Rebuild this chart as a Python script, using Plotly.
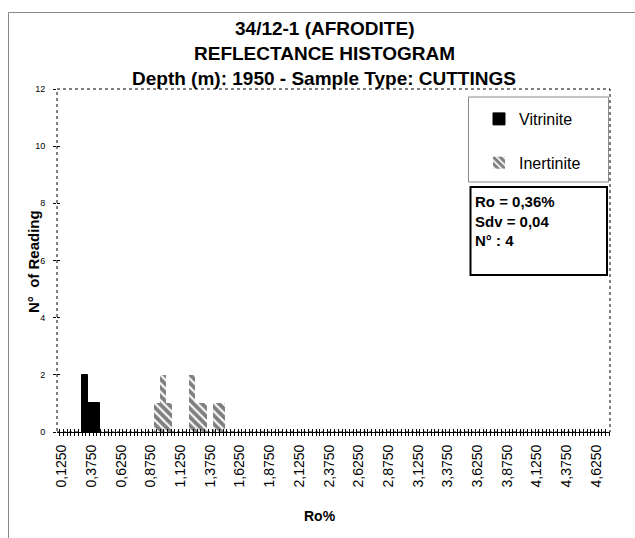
import plotly.graph_objects as go

# ---- data ----
vit_x = [0.325, 0.375, 0.425]
vit_y = [2, 1, 1]
inert_x = [0.925, 0.975, 1.025, 1.225, 1.275, 1.325, 1.425, 1.475]
inert_y = [1, 2, 1, 2, 1, 1, 1, 1]
bin_width = 0.05
label_vals = [0.125 + 0.25 * k for k in range(19)]
label_text = [f"{v:.4f}".replace(".", ",") for v in label_vals]
y_ticks = [0, 2, 4, 6, 8, 10, 12]
stats_lines = ["Ro = 0,36%", "Sdv = 0,04", "N° : 4"]
titles = ["34/12-1 (AFRODITE)", "REFLECTANCE HISTOGRAM",
          "Depth (m): 1950 - Sample Type: CUTTINGS"]

W, H = 635, 538
L, R, T, B = 57, 610, 89, 432
XR = [0.0854, 4.7403]
FONT = "Liberation Sans, Arial, sans-serif"


def px(p):
    return (p - L) / (R - L)


def py(p):
    return (B - p) / (B - T)


fig = go.Figure()
fig.add_trace(go.Bar(
    x=vit_x, y=vit_y, width=bin_width, name="Vitrinite", legendgroup="v",
    marker=dict(color="black", line=dict(color="black", width=1)),
))
fig.add_trace(go.Bar(
    x=inert_x, y=inert_y, width=bin_width, name="Inertinite", legendgroup="i",
    marker=dict(color="white", line=dict(width=0),
                pattern=dict(shape="\\", fgcolor="black", bgcolor="white",
                             size=6, solidity=0.65)),
))
# empty helper traces so that the tick-only overlay axes are drawn
for xa, ya in [("x2", "y"), ("x3", "y"), ("x", "y2")]:
    fig.add_trace(go.Scatter(x=[], y=[], xaxis=xa, yaxis=ya,
                             showlegend=False, hoverinfo="skip"))

shapes = [
    # chart area border (gray)
    dict(type="rect", xref="paper", yref="paper", x0=px(8.5), x1=px(700),
         y0=py(700), y1=py(12.5), line=dict(color="#8a8a8a", width=1),
         layer="below"),
    # dotted plot area border
    dict(type="rect", xref="paper", yref="paper", x0=0, x1=1, y0=0, y1=1,
         line=dict(color="black", width=1, dash="dot"), layer="below"),
    # legend box
    dict(type="rect", xref="paper", yref="paper", x0=px(468.5), x1=px(608.5),
         y0=py(182), y1=py(97), line=dict(color="#8a8a8a", width=1),
         fillcolor="white", layer="above"),
    # stats box
    dict(type="rect", xref="paper", yref="paper", x0=px(470.5), x1=px(607),
         y0=py(275), y1=py(187), line=dict(color="black", width=2),
         fillcolor="white", layer="above"),
]

annotations = []
for t, yc in zip(titles, [28, 53.7, 79]):
    annotations.append(dict(text=f"<b>{t}</b>", xref="paper", yref="paper",
                            x=px(324), y=py(yc), xanchor="center",
                            yanchor="middle", showarrow=False,
                            font=dict(family=FONT, size=19, color="black")))
annotations.append(dict(text="<b>Ro%</b>", xref="paper", yref="paper",
                        x=px(320), y=py(516), xanchor="center",
                        yanchor="middle", showarrow=False,
                        font=dict(family=FONT, size=14, color="black")))
annotations.append(dict(text="<b>N°\u00a0 of Reading</b>", xref="paper",
                        yref="paper", x=px(33), y=py(262), xanchor="center",
                        yanchor="middle", textangle=-90, showarrow=False,
                        font=dict(family=FONT, size=15, color="black")))
annotations.append(dict(text="<b>" + "<br>".join(stats_lines) + "</b>",
                        xref="paper", yref="paper", x=px(473), y=py(191),
                        xanchor="left", yanchor="top", align="left",
                        showarrow=False,
                        font=dict(family=FONT, size=15, color="black")))

fig.update_layout(
    width=W, height=H,
    margin=dict(l=L, r=W - R, t=T, b=H - B, pad=0),
    paper_bgcolor="white", plot_bgcolor="white",
    barmode="overlay", bargap=0,
    font=dict(family=FONT, color="black"),
    shapes=shapes, annotations=annotations,
    legend=dict(x=px(479), y=py(102), xanchor="left", yanchor="top",
                bgcolor="rgba(0,0,0,0)", borderwidth=0,
                font=dict(family=FONT, size=16, color="black"),
                traceorder="grouped", tracegroupgap=20),
    xaxis=dict(range=XR, tickmode="array", tickvals=label_vals,
               ticktext=label_text, tickangle=-90, ticks="",
               showline=True, linecolor="black", linewidth=1,
               showgrid=False, zeroline=False, ticklabelstandoff=6,
               tickfont=dict(family=FONT, size=14, color="black")),
    xaxis2=dict(overlaying="x", matches="x", anchor="y", side="bottom",
                tickmode="linear", tick0=0.109375, dtick=0.03125,
                ticks="outside", ticklen=3, tickcolor="black",
                showticklabels=False, showgrid=False, zeroline=False,
                showline=False),
    xaxis3=dict(overlaying="x", matches="x", anchor="y", side="bottom",
                tickmode="linear", tick0=0.109375, dtick=0.03125,
                ticks="inside", ticklen=3, tickcolor="black",
                showticklabels=False, showgrid=False, zeroline=False,
                showline=False),
    yaxis=dict(range=[0, 12], tickmode="array", tickvals=y_ticks,
               ticks="outside", ticklen=3, tickcolor="black",
               showline=False, showgrid=False, zeroline=False,
               ticklabelstandoff=6,
               tickfont=dict(family=FONT, size=9, color="black")),
    yaxis2=dict(overlaying="y", matches="y", anchor="x", side="left",
                tickmode="array", tickvals=y_ticks, ticks="inside",
                ticklen=3, tickcolor="black", showticklabels=False,
                showgrid=False, zeroline=False, showline=False),
)

fig.write_html("out.html")
